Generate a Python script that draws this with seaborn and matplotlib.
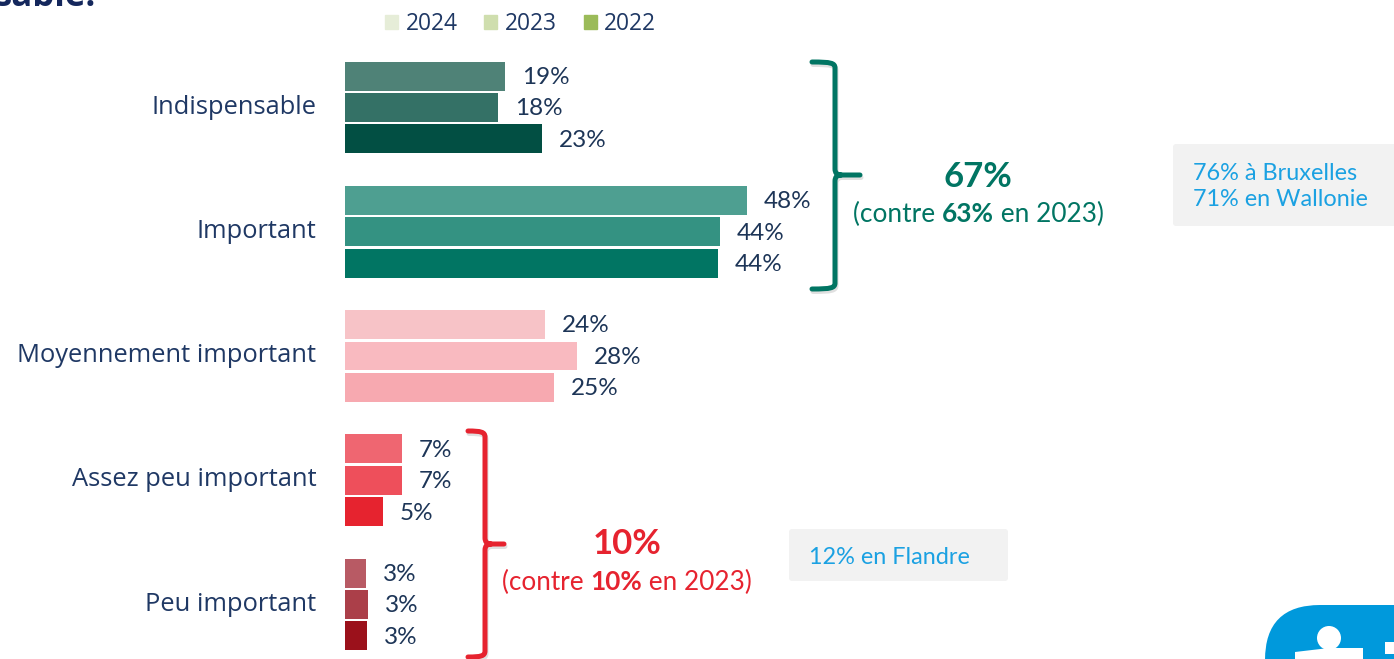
import matplotlib
matplotlib.use('Agg')
import matplotlib.pyplot as plt
import matplotlib.transforms as mtransforms
from matplotlib.patches import Patch, FancyBboxPatch, PathPatch, Circle, Polygon
from matplotlib.path import Path
import pandas as pd
import seaborn as sns

categories = ['Indispensable', 'Important', 'Moyennement important', 'Assez peu important', 'Peu important']
years = ['2024', '2023', '2022']
values_2024 = [19.1, 48.0, 23.9, 6.8, 2.5]
values_2023 = [18.3, 44.8, 27.7, 6.8, 2.75]
values_2022 = [23.5, 44.5, 25.0, 4.5, 2.6]
labels_2024 = ['19%', '48%', '24%', '7%', '3%']
labels_2023 = ['18%', '44%', '28%', '7%', '3%']
labels_2022 = ['23%', '44%', '25%', '5%', '3%']
colors_2024 = ['#4f8277', '#4e9f91', '#f7c3c7', '#ef6671', '#b85a64']
colors_2023 = ['#347166', '#349282', '#f9bac0', '#ee4f5b', '#ab3f49']
colors_2022 = ['#024f43', '#017563', '#f7a9b0', '#e6232f', '#9b111b']
legend_colors = ['#e6edd8', '#cfdeae', '#9bbb59']

NAVY = '#1f3864'
DARK = '#1d3557'
GREEN = '#017563'
RED = '#e6232f'
BLUE = '#1ba1e2'

W, H = 1394, 659
sns.set_theme(style='white')
plt.rcParams['font.family'] = ['Open Sans', 'DejaVu Sans']

rows = []
for cat, a, b, c in zip(categories, values_2024, values_2023, values_2022):
    rows.append({'cat': cat, 'year': '2024', 'val': a})
    rows.append({'cat': cat, 'year': '2023', 'val': b})
    rows.append({'cat': cat, 'year': '2022', 'val': c})
df = pd.DataFrame(rows)

fig = plt.figure(figsize=(W / 100, H / 100), dpi=100, facecolor='white')
px = mtransforms.Affine2D().scale(1 / W, -1 / H).translate(0, 1) + fig.transFigure

ax = fig.add_axes([345 / W, 0, 1 - 345 / W, 1])
sns.barplot(data=df, y='cat', x='val', hue='year', hue_order=years, order=categories,
            orient='h', width=0.76, gap=0.08, dodge=True, legend=False, linewidth=0, ax=ax)
ax.set_xlim(0, (W - 345) / 8.375)
ax.set_ylim((659 - 107.5) / 124.25, -107.5 / 124.25)
sns.despine(ax=ax, left=True, bottom=True)
ax.set_xlabel('')
ax.set_ylabel('')
ax.set_xticks([])
ax.tick_params(axis='y', length=0, pad=20.5, labelsize=18.4, labelcolor=NAVY)
lift = mtransforms.ScaledTranslation(0, 2.5 / 72, fig.dpi_scale_trans)
for lab in ax.get_yticklabels():
    lab.set_family(['Open Sans', 'DejaVu Sans'])
    lab.set_transform(lab.get_transform() + lift)

all_colors = [colors_2024, colors_2023, colors_2022]
all_labels = [labels_2024, labels_2023, labels_2022]
for cont, cols, labs in zip(ax.containers, all_colors, all_labels):
    for bar, col in zip(cont, cols):
        bar.set_facecolor(col)
    for t in ax.bar_label(cont, labels=labs, padding=12, fontsize=17.5, color=DARK, family='Lato'):
        t.xyann = (t.xyann[0], t.xyann[1] - 1)

ax.legend(handles=[Patch(color=c, label=y) for c, y in zip(legend_colors, years)],
          loc='center left', bbox_to_anchor=(367 / W, 1 - 24 / H), bbox_transform=fig.transFigure,
          ncol=3, frameon=False, fontsize=16.4, labelcolor=NAVY, handlelength=0.57, handleheight=0.57,
          handletextpad=0.32, columnspacing=1.18, borderpad=0.3)

# bout du titre coupe en haut
fig.text(-5, 6, 'sable.', transform=px, fontsize=25, fontweight='bold', color='#14275c',
         family='Open Sans', ha='left', va='baseline')


def brace(x0, x1, tip, y0, ymid, y1, col):
    verts = [(x0, y0), (x1 - 4, y0), (x1, y0 + 1), (x1, y0 + 6),
             (x1, ymid - 6), (x1, ymid), (x1 + 6, ymid),
             (tip, ymid),
             (x1 + 6, ymid), (x1, ymid), (x1, ymid + 6),
             (x1, y1 - 6), (x1, y1 - 1), (x1 - 4, y1), (x0, y1)]
    codes = [Path.MOVETO, Path.CURVE4, Path.CURVE4, Path.CURVE4,
             Path.LINETO, Path.CURVE3, Path.CURVE3,
             Path.LINETO,
             Path.MOVETO, Path.CURVE3, Path.CURVE3,
             Path.LINETO, Path.CURVE4, Path.CURVE4, Path.CURVE4]
    shadow = [(x + 1, y + 2.5) for x, y in verts]
    fig.add_artist(PathPatch(Path(shadow, codes), transform=px, fill=False, ec='black', alpha=0.12, lw=3.6,
                             capstyle='round', joinstyle='round'))
    fig.add_artist(PathPatch(Path(verts, codes), transform=px, fill=False, ec=col, lw=3.6,
                             capstyle='round', joinstyle='round'))


brace(812, 835, 860, 62, 175, 289, GREEN)
brace(468, 485, 504, 431, 544, 657, RED)


def mixed(xc, y, parts, col, size):
    # texte centre avec un morceau en gras
    r = fig.canvas.get_renderer()
    items = []
    total = 0
    for s, weight in parts:
        t = fig.text(0, y, s, transform=px, fontsize=size, color=col, family='Lato',
                     fontweight=weight, ha='left', va='center')
        w = t.get_window_extent(r).width
        items.append((t, w))
        total += w
    x = xc - total / 2
    for t, w in items:
        t.set_x(x)
        x += w


fig.text(978, 177, '67%', transform=px, fontsize=25, fontweight='bold', color=GREEN,
         family='Lato', ha='center', va='center')
mixed(978, 214, [('(contre ', 'normal'), ('63%', 'bold'), (' en 2023)', 'normal')], GREEN, 18.9)
fig.text(627, 544, '10%', transform=px, fontsize=25, fontweight='bold', color=RED,
         family='Lato', ha='center', va='center')
mixed(627, 582, [('(contre ', 'normal'), ('10%', 'bold'), (' en 2023)', 'normal')], RED, 18.8)

for x0, y0, x1, y1 in [(1173, 144, 1400, 226), (789, 529, 1008, 581)]:
    fig.add_artist(FancyBboxPatch((x0 + 3, y0 + 3), x1 - x0 - 6, y1 - y0 - 6,
                                  boxstyle='round,pad=3', transform=px, fc='#f2f2f2', ec='none'))
fig.text(1193, 173, '76% à Bruxelles', transform=px, fontsize=16.9, color=BLUE, family='Lato', va='center')
fig.text(1193, 200, '71% en Wallonie', transform=px, fontsize=16.9, color=BLUE, family='Lato', va='center')
fig.text(809, 558, '12% en Flandre', transform=px, fontsize=16.9, color=BLUE, family='Lato', va='center')

# pastille bleue du coin
fig.add_artist(FancyBboxPatch((1320, 660), 120, 60, boxstyle='round,pad=55', transform=px, fc='#0099dc', ec='none'))
fig.add_artist(Circle((1329, 638), 12, transform=px, fc='white', ec='none'))
fig.add_artist(Polygon([(1295, 652), (1329, 648), (1363, 648), (1363, 660), (1295, 660)], transform=px, fc='white', ec='none'))
fig.add_artist(Polygon([(1385, 642), (1394, 642), (1394, 654), (1385, 654)], transform=px, fc='white', ec='none'))

fig.savefig('out.png', dpi=100)
